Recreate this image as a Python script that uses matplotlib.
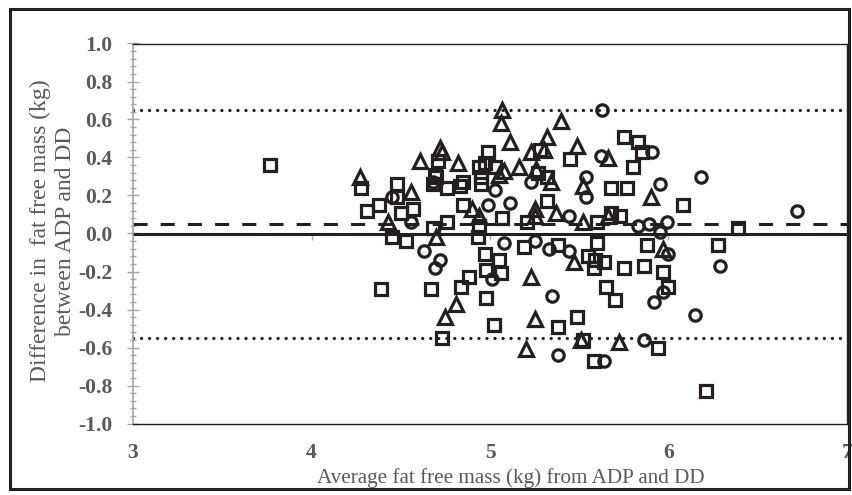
import matplotlib
matplotlib.use("Agg")
import matplotlib.pyplot as plt
from matplotlib.patches import Rectangle
from matplotlib.ticker import MultipleLocator, FormatStrFormatter

# squares
sq_x = [3.77, 4.28, 4.31, 4.38, 4.48, 4.48, 4.50, 4.57, 4.45, 4.53, 4.76, 4.71, 4.70, 4.76, 4.83, 4.85,
        4.94, 4.93, 4.99, 4.94, 4.95, 5.03, 4.39, 4.67, 4.73, 4.84, 4.88, 4.97, 4.98, 4.98, 5.02, 5.05,
        5.06, 5.19, 5.38, 5.55, 5.60, 5.59, 5.58, 5.75, 5.86, 5.88, 5.97, 6.28, 5.65, 5.70, 6.00, 5.49,
        5.38, 5.52, 5.94, 5.58, 6.21, 5.75, 5.83, 5.85, 5.80, 5.45, 5.28, 5.68, 5.77, 6.08, 5.68, 5.73,
        6.39, 4.97, 4.85, 4.95, 4.69, 4.68, 5.32, 5.32, 5.27, 5.07, 4.68, 5.60, 5.21, 5.64]
sq_y = [0.36, 0.24, 0.12, 0.15, 0.26, 0.19, 0.11, 0.13, -0.02, -0.04, 0.06, 0.38, 0.30, 0.24, 0.25, 0.15,
        0.04, -0.02, 0.43, 0.35, 0.30, 0.35, -0.29, -0.29, -0.55, -0.28, -0.23, -0.11, -0.19, -0.34, -0.48, -0.14,
        -0.21, -0.07, -0.06, -0.12, -0.05, -0.14, -0.18, -0.18, -0.17, -0.06, -0.20, -0.06, -0.28, -0.35, -0.28, -0.44,
        -0.49, -0.56, -0.60, -0.67, -0.83, 0.51, 0.48, 0.43, 0.35, 0.39, 0.44, 0.24, 0.24, 0.15, 0.11, 0.09,
        0.03, 0.37, 0.27, 0.26, 0.31, 0.26, 0.17, 0.30, 0.32, 0.08, 0.03, 0.06, 0.06, -0.15]

# circles
ci_x = [4.45, 4.56, 4.63, 4.72, 4.69, 4.68, 4.99, 5.03, 5.01, 5.08, 5.25, 5.33, 5.44, 6.00, 6.29, 5.35,
        5.97, 5.92, 6.15, 5.86, 5.38, 5.64, 5.63, 5.91, 6.18, 5.95, 5.54, 5.54, 5.23, 5.11, 5.44, 5.83,
        5.89, 5.99, 5.95, 6.72, 5.62]
ci_y = [0.19, 0.06, -0.09, -0.14, -0.18, 0.27, 0.15, 0.23, -0.24, -0.05, -0.04, -0.08, -0.09, -0.11, -0.17, -0.33,
        -0.31, -0.36, -0.43, -0.56, -0.64, -0.67, 0.65, 0.43, 0.30, 0.26, 0.30, 0.19, 0.27, 0.16, 0.09, 0.04,
        0.05, 0.06, 0.01, 0.12, 0.41]

# triangles
tr_x = [4.27, 4.56, 4.43, 4.70, 4.61, 4.72, 4.73, 4.82, 4.90, 4.94, 4.81, 4.75, 5.47, 5.97, 5.23, 5.25,
        5.51, 5.72, 5.20, 5.07, 5.06, 5.40, 5.11, 5.23, 5.32, 5.30, 5.49, 5.66, 5.90, 5.52, 5.16, 5.08,
        5.05, 5.26, 5.34, 5.25, 5.25, 5.37, 5.52, 5.66]
tr_y = [0.30, 0.22, 0.06, -0.02, 0.38, 0.45, 0.43, 0.37, 0.13, 0.09, -0.37, -0.44, -0.15, -0.08, -0.23, -0.45,
        -0.56, -0.57, -0.61, 0.65, 0.58, 0.59, 0.48, 0.43, 0.51, 0.44, 0.46, 0.40, 0.19, 0.25, 0.35, 0.33,
        0.31, 0.34, 0.27, 0.13, 0.09, 0.11, 0.06, 0.09]

mean_diff = 0.05
upper_loa = 0.65
lower_loa = -0.55
x_ticks = [3, 4, 5, 6, 7]

INK = "#231f20"
GREY = "#595959"
AXIS_GREY = "#a6a6a6"

plt.rcParams["font.family"] = ["Liberation Serif", "DejaVu Serif"]
plt.rcParams["axes.unicode_minus"] = False

fig = plt.figure(figsize=(8.53, 4.95), dpi=100)
ax = fig.add_axes([133 / 853, 1 - 423.5 / 495, (847 - 133) / 853, 380 / 495])

ax.axhline(0, color=INK, lw=2.2, zorder=2)
ax.axhline(mean_diff, color=INK, lw=2.2, linestyle=(0, (4.6, 4.3)), zorder=2)
for loa in (upper_loa, lower_loa):
    ax.axhline(loa, color=INK, lw=2.4, linestyle=(0, (0.01, 2.4)), dash_capstyle="round", zorder=2)
ax.vlines(x_ticks[1:-1], -0.035, 0, color=AXIS_GREY, lw=1, zorder=1)

style = dict(linestyle="none", mfc="none", mec=INK, mew=2.3, zorder=3)
ax.plot(sq_x, sq_y, marker="s", ms=8.5, **style)
ax.plot(ci_x, ci_y, marker="o", ms=8.2, **style)
ax.plot(tr_x, tr_y, marker="^", ms=9.5, **style)

ax.set_xlim(3, 7); ax.set_ylim(-1.0, 1.0)
ax.set_xticks(x_ticks)
ax.yaxis.set_major_locator(MultipleLocator(0.2))
ax.yaxis.set_minor_locator(MultipleLocator(0.04))
ax.yaxis.set_major_formatter(FormatStrFormatter("%.1f"))
ax.tick_params(axis="x", length=0, pad=14, labelsize=15.5, labelcolor=GREY)
ax.tick_params(axis="y", which="major", direction="inout", length=8, width=1, color=AXIS_GREY,
               pad=11, labelsize=15.5, labelcolor=GREY)
ax.tick_params(axis="y", which="minor", direction="inout", length=5, width=1, color=AXIS_GREY)
for lab in ax.get_xticklabels() + ax.get_yticklabels():
    lab.set_fontweight("bold")
for side in ("top", "right", "bottom"):
    ax.spines[side].set_color(INK); ax.spines[side].set_linewidth(1.0)
ax.spines["left"].set_color(AXIS_GREY); ax.spines["left"].set_linewidth(1.2)

fig.text(511 / 853, 1 - 478 / 495, "Average fat free mass (kg) from ADP and DD", ha="center", va="center",
         fontsize=15.2, color=GREY)
fig.text(53 / 853, 1 - 231 / 495, "Difference in  fat free mass (kg)\nbetween ADP and DD", ha="center",
         va="center", rotation=90, fontsize=17, color=GREY, linespacing=1.2)

fig.patches.append(Rectangle((9.5 / 853, 6 / 495), (849 - 9.5) / 853, (486.5 - 6) / 495, transform=fig.transFigure,
                             fill=False, lw=2.2, ec=INK))
fig.savefig("out.png", dpi=100)
